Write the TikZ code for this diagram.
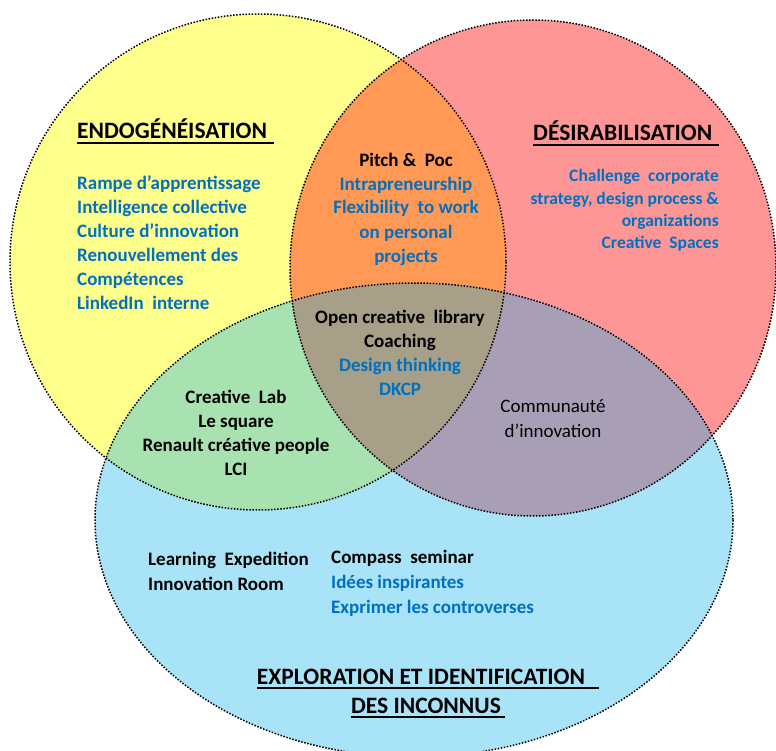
\documentclass[tikz,border=0pt]{standalone}
\usepackage{fontspec}
\setmainfont{Carlito}
\definecolor{setyellow}{RGB}{255,255,140}
\definecolor{setred}{RGB}{255,150,150}
\definecolor{setblue}{RGB}{168,227,248}
\definecolor{setorange}{RGB}{255,153,85}
\definecolor{setgreen}{RGB}{168,226,177}
\definecolor{setpurple}{RGB}{168,158,182}
\definecolor{setcore}{RGB}{168,159,137}
\definecolor{itemblue}{RGB}{0,112,192}
\tikzset{
  set-border/.style={draw=black, line width=1.5pt, dash pattern=on 1.5pt off 1.6pt},
  item/.style={font=\bfseries\fontsize{19}{24}\selectfont, inner sep=0pt},
  item-blue/.style={item, text=itemblue},
  item-plain/.style={font=\fontsize{19}{25}\selectfont, inner sep=0pt},
  heading/.style={font=\bfseries\fontsize{23.5}{29}\selectfont, inner sep=0pt},
  heading-rule/.style={line width=2pt}
}
\newcommand{\setendo}{(258,262) ellipse [x radius=248, y radius=248]}
\newcommand{\setdesir}{(533,268) ellipse [x radius=243, y radius=248]}
\newcommand{\setexplo}{(414,520) ellipse [x radius=319, y radius=237]}

\begin{document}
\begin{tikzpicture}[x=1pt, y=-1pt]
  \useasboundingbox (0,0) rectangle (776,751);
  % plain sets
  \fill[setyellow] \setendo;
  \fill[setred] \setdesir;
  \fill[setblue] \setexplo;
  % pairwise overlaps
  \begin{scope}
    \clip \setendo;
    \fill[setorange] \setdesir;
    \fill[setgreen] \setexplo;
  \end{scope}
  \begin{scope}
    \clip \setdesir;
    \fill[setpurple] \setexplo;
  \end{scope}
  % common core
  \begin{scope}
    \clip \setendo;
    \clip \setdesir;
    \fill[setcore] \setexplo;
  \end{scope}
  \draw[set-border] \setendo;
  \draw[set-border] \setdesir;
  \draw[set-border] \setexplo;

  % endogeneisation (base = last line)
  \node[heading, anchor=base west] (endo-title) at (77,139) {ENDOGÉNÉISATION};
  \draw[heading-rule] ([yshift=-4pt]endo-title.base west) -- ([xshift=7pt,yshift=-4pt]endo-title.base east);
  \node[item-blue, anchor=base west, align=left] (endo-list) at (77,309)
    {Rampe d’apprentissage\\Intelligence collective\\Culture d’innovation\\Renouvellement des\\Compétences\\LinkedIn~ interne};

  % desirabilisation
  \node[heading, anchor=base west] (desir-title) at (533,141) {DÉSIRABILISATION};
  \draw[heading-rule] ([yshift=-4pt]desir-title.base west) -- ([xshift=7pt,yshift=-4pt]desir-title.base east);
  \node[item-blue, font=\bfseries\fontsize{17.5}{22.4}\selectfont, anchor=base east, align=right] (desir-list) at (719,249)
    {Challenge~ corporate\\strategy, design process \&\\organizations\\Creative~ Spaces};

  % overlaps
  \node[item, anchor=base, align=center] (pitch) at (406,262)
    {Pitch \&~ Poc\\\textcolor{itemblue}{Intrapreneurship}\\\textcolor{itemblue}{Flexibility~ to work}\\\textcolor{itemblue}{on personal}\\\textcolor{itemblue}{projects}};
  \node[item, anchor=base, align=center] (core) at (400,395)
    {Open creative~ library\\Coaching\\\textcolor{itemblue}{Design thinking}\\\textcolor{itemblue}{DKCP}};
  \node[item, anchor=base, align=center] (lab) at (236,475)
    {Creative~ Lab\\Le square\\Renault créative people\\LCI};
  \node[item-plain, anchor=base, align=center] (community) at (553,437)
    {Communauté\\d’innovation};

  % exploration
  \node[item, font=\bfseries\fontsize{19}{25}\selectfont, anchor=base west, align=left] (expedition) at (148,590)
    {Learning~ Expedition\\Innovation Room};
  \node[item, font=\bfseries\fontsize{19}{25}\selectfont, anchor=base west, align=left] (compass) at (331,613)
    {Compass~ seminar\\\textcolor{itemblue}{Idées inspirantes}\\\textcolor{itemblue}{Exprimer les controverses}};
  \node[heading, anchor=base] (explo-title) at (421,684) {EXPLORATION ET IDENTIFICATION};
  \draw[heading-rule] ([yshift=-4pt]explo-title.base west) -- ([xshift=14pt,yshift=-4pt]explo-title.base east);
  \node[heading, anchor=base] (explo-sub) at (426,713) {DES INCONNUS};
  \draw[heading-rule] ([yshift=-4pt]explo-sub.base west) -- ([xshift=4pt,yshift=-4pt]explo-sub.base east);
\end{tikzpicture}
\end{document}
